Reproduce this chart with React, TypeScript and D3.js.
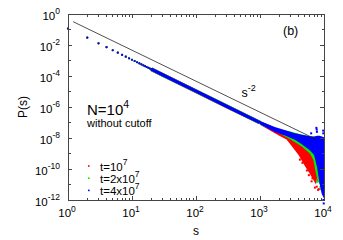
import * as d3 from "d3";

// small-s points (shared by all three runs, drawn as separate dots)
const headS = [1, 2, 3, 4, 5, 6, 7, 8, 9, 10, 11, 12, 13, 14, 15, 16, 17, 18, 19, 20, 22, 24, 26];
const headP = [
  0.115, 0.0295, 0.0129, 0.0072, 0.0046, 0.0032, 0.0023, 0.00177, 0.00139,
  0.00112, 0.00093, 0.00077, 0.00066, 0.00057, 0.00049, 0.00043, 0.00038,
  0.00034, 0.000305, 0.000275, 0.000226, 0.00019, 0.000162,
];

// the dense part of the distribution, where points merge into a band
const bandS = [20, 30, 100, 300, 1000];
const bandP = [2.75e-4, 1.2e-4, 1.05e-5, 1.12e-6, 9.8e-8];

// scattered tails (upper / lower envelope of each cloud)
const redTailS = [1000, 2000, 2600, 3100, 4000, 5000, 6000, 7000, 7500, 7900];
const redTailHi = [1.2e-7, 3.5e-8, 2.6e-8, 2.2e-8, 1.7e-8, 1.4e-8, 1.2e-8, 1.1e-8, 1.1e-8, 1.1e-8];
const redTailLo = [7.2e-8, 1.4e-8, 7.9e-9, 3.2e-9, 7.9e-10, 1.6e-10, 5e-11, 1.6e-11, 1e-11, 4e-11];

const greenTailS = [1000, 2000, 3000, 4500, 6000, 6800, 7400, 8000, 8600, 9000, 9300];
const greenTailHi = [1.26e-7, 3.6e-8, 2.6e-8, 1.7e-8, 1.3e-8, 1.2e-8, 1.2e-8, 1.3e-8, 1.3e-8, 1.3e-8, 1.2e-8];
const greenTailLo = [7.1e-8, 2e-8, 7.9e-9, 2.8e-9, 1e-9, 4e-10, 6.3e-11, 1.6e-11, 1e-11, 1.6e-11, 1e-10];

const blueTailS = [1000, 1700, 2500, 3500, 4500, 6000, 7000, 7800, 8500, 9200, 10000];
const blueTailHi = [1.26e-7, 5.2e-8, 3.2e-8, 2e-8, 1.6e-8, 1.3e-8, 1.26e-8, 1.4e-8, 1.4e-8, 1.26e-8, 1.1e-8];
const blueTailLo = [7.6e-8, 2.4e-8, 1.4e-8, 7.6e-9, 4e-9, 1.6e-9, 7.9e-10, 1.26e-10, 1.26e-11, 2.5e-12, 1.26e-12];

// stray points around the clouds
const redDots: [number, number][] = [
  [4200, 4e-10], [4600, 2.5e-10], [5400, 8e-11], [5800, 4e-11], [6400, 1.6e-11],
  [6600, 2.5e-11], [7200, 6.3e-12], [7700, 7.2e-12], [8100, 4.5e-12], [8300, 5e-12],
  [9100, 1.07e-11], [9250, 1.07e-11], [8000, 2e-11],
];
const greenDots: [number, number][] = [[8800, 7e-12], [9000, 5e-12], [7800, 1.5e-11]];
const blueDots: [number, number][] = [
  [7600, 4.5e-8], [7700, 3.5e-8], [7750, 2.5e-8], [9700, 3e-8], [9750, 2e-8],
  [6300, 2e-8], [9900, 6e-13], [9800, 1e-12],
];

// guide line ~ s^-2
const guideS = [1.2, 7500];
const guideP = [0.32, 8.2e-9];

const xMajors = [1, 10, 100, 1000, 10000];
const xExps = ["0", "1", "2", "3", "4"];
const yDecades = [0, -1, -2, -3, -4, -5, -6, -7, -8, -9, -10, -11, -12];
const yLabelExps = ["0", "-2", "-4", "-6", "-8", "-10", "-12"];

const legend = [
  { pre: "t=", mid: "10", exp: "7", color: "#ff0000" },
  { pre: "t=2x", mid: "10", exp: "7", color: "#00ee00" },
  { pre: "t=4x", mid: "10", exp: "7", color: "#0000ff" },
];

const FONT = "'Liberation Sans', Arial, Helvetica, sans-serif";

export default function App() {
  const width = 343;
  const height = 240;
  const left = 68, right = 324, top = 14, bottom = 200;

  const x = d3.scaleLog().domain([1, 1e4]).range([left, right]);
  const y = d3.scaleLog().domain([1e-12, 1]).range([bottom, top]);

  const line = d3
    .line<[number, number]>()
    .x((d) => x(d[0]))
    .y((d) => y(d[1]));

  const tailArea = (s: number[], hi: number[], lo: number[]) =>
    d3
      .area<number>()
      .x((i) => x(s[i]))
      .y0((i) => y(lo[i]))
      .y1((i) => y(hi[i]))(d3.range(s.length)) ?? "";

  const band = bandS.map((s, i) => [s, bandP[i]] as [number, number]);
  const head = headS.map((s, i) => [s, headP[i]] as [number, number]);

  const xMinors: number[] = [];
  for (let e = 0; e < 4; e++) for (let k = 2; k <= 9; k++) xMinors.push(k * 10 ** e);

  const series = [
    { color: "#ff0000", tail: tailArea(redTailS, redTailHi, redTailLo), dots: redDots, w: 3.8 },
    { color: "#00ee00", tail: tailArea(greenTailS, greenTailHi, greenTailLo), dots: greenDots, w: 3.6 },
    { color: "#0000ff", tail: tailArea(blueTailS, blueTailHi, blueTailLo), dots: blueDots, w: 3.2 },
  ];

  const axisColor = "#444";

  return (
    <div style={{ position: "absolute", left: 0, top: 0, background: "#fff" }}>
      <svg width={width} height={height} style={{ display: "block" }} fontFamily={FONT}>
        <rect width={width} height={height} fill="#fff" />

        {/* data */}
        {series.map((sr, k) => (
          <g key={k}>
            <path d={sr.tail} fill={sr.color} />
            <path d={line(band) ?? ""} fill="none" stroke={sr.color} strokeWidth={sr.w} />
            {head.map((d, i) => (
              <circle key={i} cx={x(d[0])} cy={y(d[1])} r={1.1} fill={sr.color} />
            ))}
            {sr.dots.map((d, i) => (
              <rect key={"d" + i} x={x(d[0]) - 1} y={y(d[1]) - 1} width={2} height={2} fill={sr.color} />
            ))}
          </g>
        ))}

        {/* guide line */}
        <path
          d={line(guideS.map((s, i) => [s, guideP[i]] as [number, number])) ?? ""}
          fill="none"
          stroke="#222"
          strokeWidth={0.8}
        />
        <text x={241.5} y={96.5} fontSize={12.5} fill="#000">
          s<tspan dy={-6} fontSize={9}>-2</tspan>
        </text>

        {/* frame and ticks */}
        <g stroke={axisColor} strokeWidth={1} shapeRendering="crispEdges">
          <rect x={left} y={top} width={right - left} height={bottom - top} fill="none" />
          {xMajors.map((v) => (
            <g key={v}>
              <line x1={x(v)} x2={x(v)} y1={bottom} y2={bottom - 4} />
              <line x1={x(v)} x2={x(v)} y1={top} y2={top + 4} />
            </g>
          ))}
          {xMinors.map((v) => (
            <g key={"m" + v}>
              <line x1={x(v)} x2={x(v)} y1={bottom} y2={bottom - 2.5} />
              <line x1={x(v)} x2={x(v)} y1={top} y2={top + 2.5} />
            </g>
          ))}
          {yDecades.map((e) => {
            const len = e % 2 === 0 ? 4 : 2.5;
            const yy = y(10 ** e);
            return (
              <g key={"y" + e}>
                <line x1={left} x2={left + len} y1={yy} y2={yy} />
                <line x1={right} x2={right - len} y1={yy} y2={yy} />
              </g>
            );
          })}
        </g>

        {/* tick labels */}
        {yLabelExps.map((e) => (
          <text key={e} x={60} y={y(10 ** +e) + 5.5} textAnchor="end" fontSize={11.5} fill="#000">
            10<tspan dy={-5.5} fontSize={8.5}>{e}</tspan>
          </text>
        ))}
        {xMajors.map((v, i) => (
          <text key={v} x={x(v) - 1} y={217} textAnchor="middle" fontSize={11.5} fill="#000">
            10<tspan dy={-5.5} fontSize={8.5}>{xExps[i]}</tspan>
          </text>
        ))}

        {/* axis titles */}
        <text x={196} y={235} textAnchor="middle" fontSize={12} fill="#000">
          s
        </text>
        <text
          transform="translate(27,107) rotate(-90)"
          textAnchor="middle"
          fontSize={12}
          fill="#000"
        >
          P(s)
        </text>

        <text x={283} y={35} fontSize={12.5} fill="#000">
          (b)
        </text>

        {/* annotations */}
        <text x={87} y={115} fontSize={15} fill="#000">
          N=10<tspan dy={-7} fontSize={10.5}>4</tspan>
        </text>
        <text x={87} y={126.5} fontSize={11} fill="#000">
          without cutoff
        </text>

        {/* legend */}
        {legend.map((l, i) => (
          <g key={i}>
            <rect x={88} y={166 + i * 12.2 - 0.8} width={1.6} height={1.6} fill={l.color} />
            <text x={100} y={170.5 + i * 12.2} fontSize={11.5} fill="#000">
              {l.pre + l.mid}
              <tspan dy={-5.5} fontSize={8.5}>{l.exp}</tspan>
            </text>
          </g>
        ))}
      </svg>
    </div>
  );
}
